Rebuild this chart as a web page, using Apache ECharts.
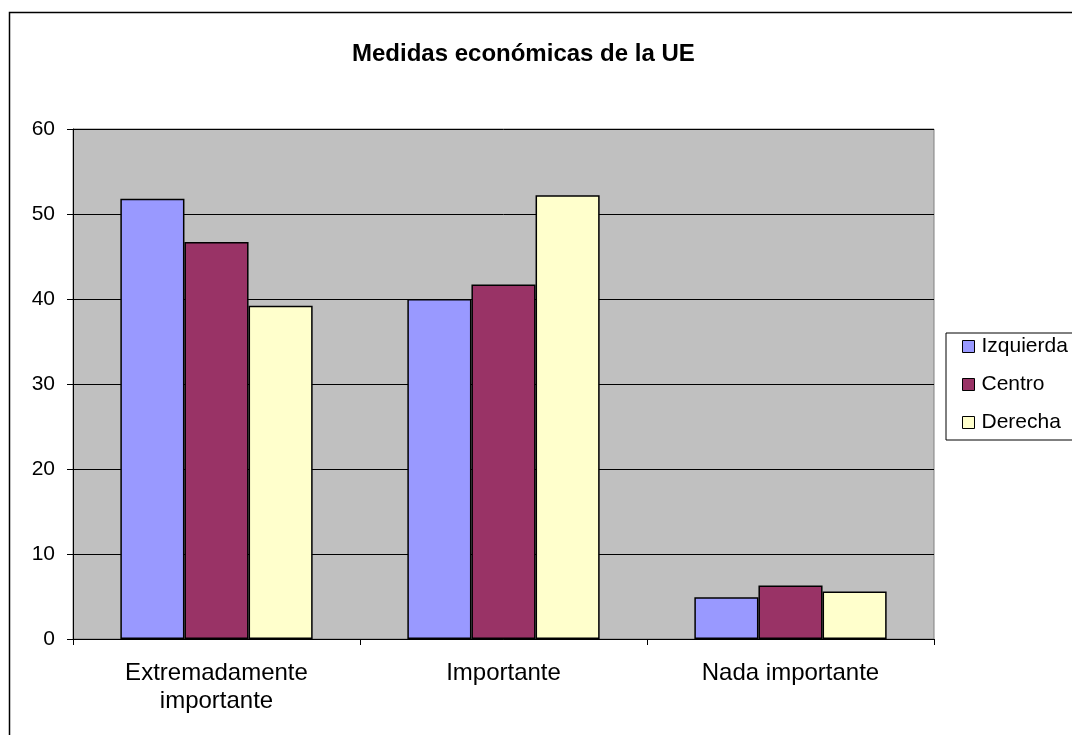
<!DOCTYPE html>
<html>
<head>
<meta charset="utf-8">
<script src="https://cdn.jsdelivr.net/npm/echarts@6/dist/echarts.min.js"></script>
<style>
html,body{margin:0;padding:0;background:#fff;}
#c{width:1072px;height:735px;}
</style>
</head>
<body>
<div id="c"></div>
<script>
const categories = ['Extremadamente\nimportante', 'Importante', 'Nada importante'];
const izquierda = [51.8, 40.0, 4.9];
const centro = [46.7, 41.7, 6.3];
const derecha = [39.2, 52.2, 5.6];
const yTicks = [0, 10, 20, 30, 40, 50, 60];

const font = 'Arial, "Liberation Sans", sans-serif';
const chart = echarts.init(document.getElementById('c'), null, {renderer: 'canvas'});
const barStyle = (color) => ({color: color, borderColor: '#000', borderWidth: 1.5});
chart.setOption({
  animation: false,
  backgroundColor: '#fff',
  title: {
    text: 'Medidas económicas de la UE',
    left: 347, top: 37,
    textStyle: {fontFamily: font, fontSize: 24, fontWeight: 'bold', color: '#000'}
  },
  graphic: [{
    type: 'rect', silent: true, z: -10,
    shape: {x: 9.5, y: 12.5, width: 1200, height: 900},
    style: {fill: 'none', stroke: '#000', lineWidth: 1.5}
  }],
  legend: {
    orient: 'vertical',
    left: 946, top: 333,
    padding: [3, 40, 7, 16],
    itemGap: 17,
    itemWidth: 12, itemHeight: 12,
    icon: 'rect',
    borderColor: '#000', borderWidth: 1,
    backgroundColor: '#fff',
    itemStyle: {borderColor: '#000', borderWidth: 1},
    textStyle: {fontFamily: font, fontSize: 21, color: '#000', lineHeight: 20, padding: [0, 0, 0, 2]},
    data: ['Izquierda', 'Centro', 'Derecha']
  },
  grid: {
    left: 73, right: 138, top: 129, bottom: 96,
    show: true, backgroundColor: '#C0C0C0', borderColor: '#808080', borderWidth: 1
  },
  xAxis: {
    type: 'category',
    data: categories,
    boundaryGap: true,
    axisLine: {lineStyle: {color: '#000', width: 1}},
    axisTick: {show: true, length: 6, lineStyle: {color: '#000'}},
    axisLabel: {fontFamily: font, fontSize: 24, color: '#000', lineHeight: 28, margin: 20, interval: 0}
  },
  yAxis: {
    type: 'value',
    min: 0, max: 60, interval: 10,
    axisLine: {show: true, lineStyle: {color: '#000', width: 1}},
    axisTick: {show: true, length: 6, lineStyle: {color: '#000'}},
    splitLine: {show: true, lineStyle: {color: '#000', width: 1}},
    axisLabel: {fontFamily: font, fontSize: 21, color: '#000', margin: 18,
      formatter: (v) => yTicks.includes(v) ? String(v) : ''}
  },
  series: [
    {name: 'Izquierda', type: 'bar', data: izquierda, barGap: '0%', barCategoryGap: '33%', itemStyle: barStyle('#9999FF')},
    {name: 'Centro', type: 'bar', data: centro, barGap: '0%', barCategoryGap: '33%', itemStyle: barStyle('#993366')},
    {name: 'Derecha', type: 'bar', data: derecha, barGap: '0%', barCategoryGap: '33%', itemStyle: barStyle('#FFFFCC')}
  ]
});
</script>
</body>
</html>
